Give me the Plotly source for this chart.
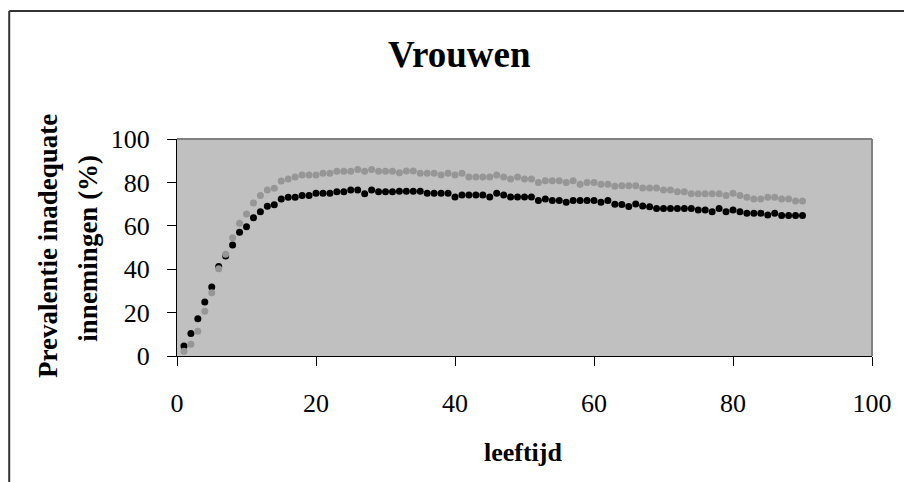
import plotly.graph_objects as go

ages = list(range(1, 91))

series_black = [
    4.6, 10.4, 17.2, 24.9, 31.8, 41.2, 46.1, 51.2, 57.0, 59.6,
    63.7, 66.5, 69.0, 69.7, 72.3, 73.1, 73.1, 74.0, 74.0, 75.0,
    75.0, 75.0, 75.7, 75.7, 76.5, 76.5, 74.8, 76.5, 75.7, 75.7,
    75.7, 75.9, 75.9, 75.9, 75.9, 75.0, 75.0, 75.0, 75.0, 73.3,
    74.2, 74.2, 74.2, 74.2, 73.3, 75.0, 74.2, 73.3, 73.3, 73.3,
    73.3, 71.7, 72.3, 71.7, 71.7, 70.8, 71.7, 71.7, 71.7, 71.7,
    70.8, 71.7, 69.9, 69.8, 68.9, 70.0, 69.1, 68.8, 68.0, 68.0,
    68.0, 68.0, 68.0, 68.0, 67.3, 67.3, 66.5, 68.0, 66.5, 67.3,
    66.5, 65.8, 65.8, 65.8, 65.0, 65.8, 64.7, 64.7, 64.7, 64.7,
]

series_gray = [
    2.2, 5.4, 11.4, 20.6, 29.2, 40.2, 46.9, 54.5, 61.2, 65.4,
    70.5, 74.0, 76.5, 77.3, 80.6, 81.6, 82.5, 83.4, 83.4, 83.4,
    84.2, 84.2, 85.1, 85.1, 85.1, 85.9, 85.1, 85.9, 85.1, 85.1,
    85.1, 84.4, 85.2, 85.2, 84.2, 84.2, 84.2, 83.4, 84.2, 83.4,
    84.2, 82.5, 82.5, 82.5, 82.5, 83.4, 82.5, 81.6, 82.5, 81.6,
    81.6, 80.0, 80.8, 80.8, 80.8, 80.0, 80.8, 79.1, 80.0, 80.0,
    79.1, 79.1, 78.2, 78.4, 78.4, 78.4, 77.4, 77.4, 77.4, 76.5,
    76.5, 75.7, 75.7, 74.8, 74.8, 74.8, 74.8, 74.8, 74.0, 75.0,
    74.0, 73.1, 72.3, 72.3, 73.1, 73.1, 72.3, 72.3, 71.4, 71.4,
]

x_ticks = [0, 20, 40, 60, 80, 100]
y_ticks = [0, 20, 40, 60, 80, 100]

title_text = "Vrouwen"
x_title = "leeftijd"
y_title_lines = ["Prevalentie inadequate", "innemingen (%)"]

W, H = 904, 482
L, R, T, B = 177, 27, 139, 126
PW, PH = W - L - R, H - T - B


def px(xpix):
    return (xpix - L) / PW


def py(ypix):
    return (H - B - ypix) / PH


FONT = "Liberation Serif, Times New Roman, serif"

fig = go.Figure()
fig.add_trace(go.Scatter(
    x=ages, y=series_black, mode="markers",
    marker=dict(color="#000000", size=7, line=dict(width=0)),
    showlegend=False, hoverinfo="skip",
))
fig.add_trace(go.Scatter(
    x=ages, y=series_gray, mode="markers",
    marker=dict(color="#969696", size=7, line=dict(width=0)),
    showlegend=False, hoverinfo="skip",
))

axis_common = dict(
    showgrid=False, zeroline=False, showline=True, linecolor="#000000",
    linewidth=1, ticks="outside", ticklen=9, tickwidth=1, tickcolor="#000000",
    tickfont=dict(family=FONT, size=26, color="#000000"),
)
fig.update_xaxes(range=[0, 100], tickvals=x_ticks, ticklabelstandoff=15, **axis_common)
fig.update_yaxes(range=[0, 100], tickvals=y_ticks, ticklabelstandoff=12, **axis_common)

shapes = [
    # plot-area top and right border (gray)
    dict(type="line", xref="paper", yref="paper", x0=0, x1=1, y0=1, y1=1,
         line=dict(color="#808080", width=2)),
    dict(type="line", xref="paper", yref="paper", x0=1, x1=1, y0=0, y1=1,
         line=dict(color="#808080", width=2)),
    # outer chart frame (top and left)
    dict(type="line", xref="paper", yref="paper", x0=px(8), x1=px(910),
         y0=py(11), y1=py(11), line=dict(color="#333333", width=2)),
    dict(type="line", xref="paper", yref="paper", x0=px(8), x1=px(8),
         y0=py(11), y1=py(490), line=dict(color="#333333", width=2)),
]

annotations = [
    dict(text="<b>%s</b>" % title_text, xref="paper", yref="paper",
         x=px(462), y=py(55), xanchor="center", yanchor="middle",
         showarrow=False, font=dict(family=FONT, size=37, color="#000000")),
    dict(text="<b>%s</b>" % x_title, xref="paper", yref="paper",
         x=px(526), y=py(452), xanchor="center", yanchor="middle",
         showarrow=False, font=dict(family=FONT, size=26, color="#000000")),
    dict(text="<b>%s</b>" % y_title_lines[0], xref="paper", yref="paper",
         x=px(47), y=py(246), xanchor="center", yanchor="middle", textangle=-90,
         showarrow=False, font=dict(family=FONT, size=27, color="#000000")),
    dict(text="<b>%s</b>" % y_title_lines[1], xref="paper", yref="paper",
         x=px(87), y=py(248), xanchor="center", yanchor="middle", textangle=-90,
         showarrow=False, font=dict(family=FONT, size=27, color="#000000")),
]

fig.update_layout(
    width=W, height=H, autosize=False,
    margin=dict(l=L, r=R, t=T, b=B, pad=0),
    paper_bgcolor="#FFFFFF", plot_bgcolor="#C0C0C0",
    shapes=shapes, annotations=annotations,
    font=dict(family=FONT, color="#000000"),
)

fig.write_html("out.html", include_plotlyjs=True, config={"displayModeBar": False})
